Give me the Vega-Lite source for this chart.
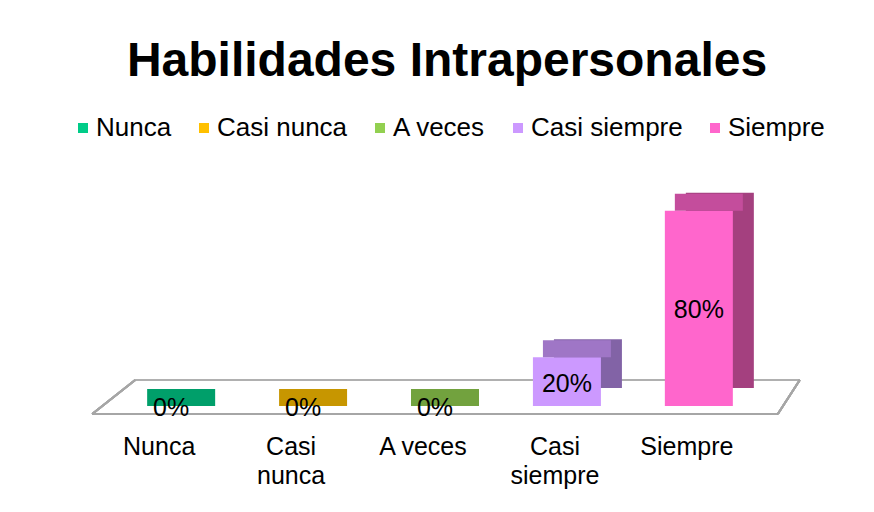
{
  "$schema": "https://vega.github.io/schema/vega-lite/v6.json",
  "width": 686,
  "height": 244,
  "autosize": {"type": "none"},
  "padding": {"left": 92, "top": 162, "right": 96, "bottom": 106},
  "background": "white",
  "config": {"view": {"stroke": null}, "font": "Liberation Sans"},
  "title": {
    "text": "Habilidades Intrapersonales",
    "font": "Liberation Sans",
    "fontSize": 48,
    "fontWeight": "bold",
    "color": "#000000",
    "anchor": "middle",
    "frame": "group",
    "baseline": "alphabetic",
    "offset": -9,
    "dx": 12
  },
  "data": {
    "values": [
      {"cat": "Nunca", "v": 0},
      {"cat": "Casi nunca", "v": 0},
      {"cat": "A veces", "v": 0},
      {"cat": "Casi siempre", "v": 0.2},
      {"cat": "Siempre", "v": 0.8}
    ]
  },
  "resolve": {"scale": {"y": "independent", "color": "independent"}},
  "layer": [
    {
      "mark": {"type": "rule", "stroke": "#a6a6a6", "strokeWidth": 2, "yOffset": 8},
      "encoding": {"y": {"datum": 0, "type": "quantitative", "scale": {"domain": [0, 1]}, "axis": null}}
    },
    {
      "mark": {"type": "rule", "stroke": "#b0b0b0", "strokeWidth": 2, "yOffset": -26, "xOffset": 30, "x2Offset": 35},
      "encoding": {
        "x": {"datum": "Nunca", "type": "nominal", "bandPosition": 0,
          "scale": {"domain": ["Nunca", "Casi nunca", "A veces", "Casi siempre", "Siempre"], "paddingInner": 0, "paddingOuter": 0.1},
          "axis": {"bandPosition": 0.5, "title": null, "domain": false, "ticks": false, "labelFontSize": 25, "labelColor": "#000000",
                   "labelFont": "Liberation Sans", "labelAngle": 0, "labelPadding": 28, "labelOffset": -12,
                   "labelLineHeight": 29, "labelBaseline": "top",
                   "labelExpr": "datum.label == 'A veces' ? datum.label : split(datum.label, ' ')"}},
        "x2": {"datum": "Siempre", "bandPosition": 1},
        "y": {"datum": 0, "type": "quantitative", "scale": {"domain": [0, 1]}, "axis": null}
      }
    },
    {
      "mark": {"type": "rule", "stroke": "#a6a6a6", "strokeWidth": 2, "xOffset": -13, "x2Offset": 30, "yOffset": 8, "y2Offset": -26},
      "encoding": {
        "x": {"datum": "Nunca", "type": "nominal", "bandPosition": 0},
        "x2": {"datum": "Nunca", "bandPosition": 0},
        "y": {"datum": 0, "type": "quantitative", "scale": {"domain": [0, 1]}, "axis": null},
        "y2": {"datum": 0}
      }
    },
    {
      "mark": {"type": "rule", "stroke": "#a6a6a6", "strokeWidth": 2, "xOffset": 13, "x2Offset": 35, "yOffset": 8, "y2Offset": -26},
      "encoding": {
        "x": {"datum": "Siempre", "type": "nominal", "bandPosition": 1},
        "x2": {"datum": "Siempre", "bandPosition": 1},
        "y": {"datum": 0, "type": "quantitative", "scale": {"domain": [0, 1]}, "axis": null},
        "y2": {"datum": 0}
      }
    },
    {
      "mark": {"type": "bar", "width": 68, "xOffset": 21, "yOffset": -18},
      "encoding": {
        "x": {"field": "cat", "type": "nominal", "sort": null},
        "y": {"field": "v", "type": "quantitative", "scale": {"domain": [0, 1]}, "axis": null},
        "color": {"field": "cat", "type": "nominal", "legend": null,
          "scale": {"domain": ["Nunca", "Casi nunca", "A veces", "Casi siempre", "Siempre"],
                    "range": ["#008a5c", "#a87e00", "#5f8a33", "#8263a6", "#a4407f"]}}
      }
    },
    {
      "mark": {"type": "bar", "width": 68},
      "encoding": {
        "x": {"field": "cat", "type": "nominal", "sort": null},
        "y": {"field": "v", "type": "quantitative", "scale": {"domain": [0, 1]}, "axis": null},
        "color": {"field": "cat", "type": "nominal",
          "scale": {"domain": ["Nunca", "Casi nunca", "A veces", "Casi siempre", "Siempre"],
                    "range": ["#00cc88", "#ffc000", "#92d050", "#cc99ff", "#ff66cc"]},
          "legend": {"orient": "none", "legendX": -22, "legendY": -47, "direction": "horizontal", "title": null,
                     "symbolType": "square", "symbolSize": 100, "symbolStrokeWidth": 0, "labelFontSize": 26,
                     "labelFont": "Liberation Sans", "labelColor": "#000000", "labelOffset": 0, "columnPadding": 19,
                     "labelLimit": 300, "padding": 0}}
      }
    },
    {
      "mark": {"type": "tick", "orient": "horizontal", "size": 68, "thickness": 17, "xOffset": 10, "yOffset": -8.5, "opacity": 1},
      "encoding": {
        "x": {"field": "cat", "type": "nominal", "sort": null},
        "y": {"field": "v", "type": "quantitative", "scale": {"domain": [0, 1]}, "axis": null},
        "color": {"field": "cat", "type": "nominal", "legend": null,
          "scale": {"domain": ["Nunca", "Casi nunca", "A veces", "Casi siempre", "Siempre"],
                    "range": ["#009f6a", "#c79600", "#72a23e", "#9f76c6", "#c44d9c"]}}
      }
    },
    {
      "mark": {"type": "text", "fontSize": 25, "font": "Liberation Sans", "color": "#000000", "baseline": "middle", "align": "center", "dy": 2},
      "encoding": {
        "x": {"field": "cat", "type": "nominal", "sort": null},
        "y": {"field": "v", "type": "quantitative", "scale": {"domain": [0, 2]}, "axis": null},
        "text": {"field": "v", "type": "quantitative", "format": ".0%"}
      }
    }
  ]
}
